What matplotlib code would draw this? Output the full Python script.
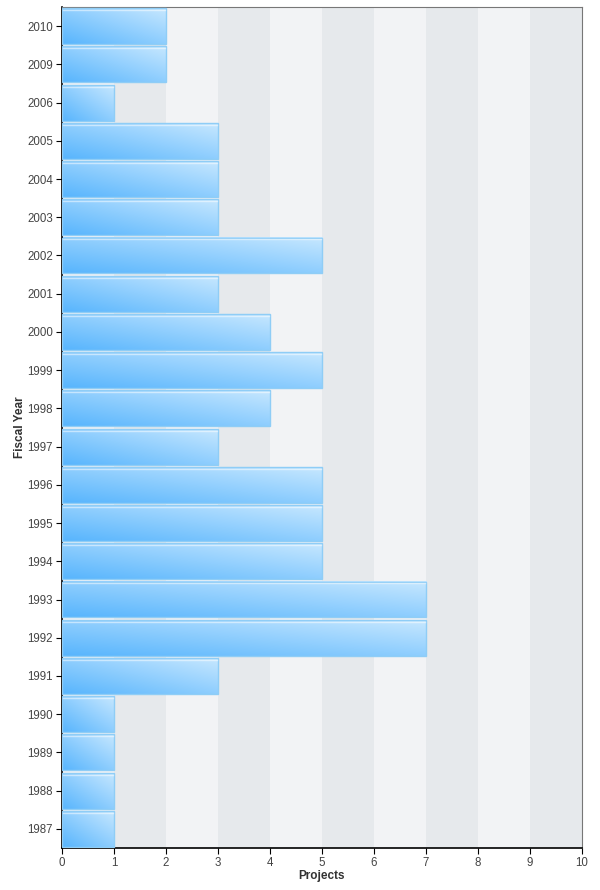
import numpy as np
import matplotlib.pyplot as plt
from matplotlib.colors import LinearSegmentedColormap
from matplotlib.patches import Rectangle

plt.rcParams['font.family'] = ['Liberation Sans', 'DejaVu Sans']

years = ['2010', '2009', '2006', '2005', '2004', '2003', '2002', '2001', '2000', '1999', '1998',
         '1997', '1996', '1995', '1994', '1993', '1992', '1991', '1990', '1989', '1988', '1987']
projects = [2, 2, 1, 3, 3, 3, 5, 3, 4, 5, 4, 3, 5, 5, 5, 7, 7, 3, 1, 1, 1, 1]

fig = plt.figure(figsize=(6, 8.9), dpi=100)
ax = fig.add_axes([0.1033, 0.0472, 0.8667, 0.9449])

# alternating bands
for k in range(10):
    c = '#e6e9ec' if k % 2 == 1 else '#f2f3f5'
    ax.axvspan(k, k + 1, color=c, lw=0, zorder=0)

cmap = LinearSegmentedColormap.from_list('b', ['#58b5fd', '#c6e7ff'])
n = len(years)
h = 0.94
uu, vv = np.meshgrid(np.linspace(0, 1, 100), np.linspace(0, 1, 30))
for i, (y, v) in enumerate(zip(years, projects)):
    pos = n - 1 - i
    grad = 0.5 * uu + 0.5 * vv
    ax.imshow(grad, cmap=cmap, extent=[0, v, pos - h / 2, pos + h / 2],
              origin='lower', aspect='auto', zorder=2, interpolation='bilinear')
    ax.add_patch(Rectangle((0, pos - h / 2), v, h, fill=False, ec='#8fcdf6', lw=1, zorder=3))
    ax.plot([0.02, v - 0.02], [pos + h / 2 - 0.05] * 2, color='white', alpha=0.5, lw=1, zorder=3)

ax.set_xlim(0, 10)
ax.set_ylim(-0.5, n - 0.5)
ax.set_xticks(range(11))
ax.set_yticks(range(n))
ax.set_yticklabels(years[::-1])
ax.tick_params(labelsize=8.3, colors='#444444', length=4, pad=2.5)
ax.tick_params(axis='both', color='black')
for s in ['top', 'right']:
    ax.spines[s].set_color('#777777')
for s in ['left', 'bottom']:
    ax.spines[s].set_color('black')
    ax.spines[s].set_linewidth(1.2)
ax.set_xlabel('Projects', fontsize=8.5, fontweight='bold', color='#333333', labelpad=1)
ax.set_ylabel('Fiscal Year', fontsize=8.5, fontweight='bold', color='#333333')
ax.yaxis.set_label_coords(-0.07, 0.5)

fig.savefig('out.png')
